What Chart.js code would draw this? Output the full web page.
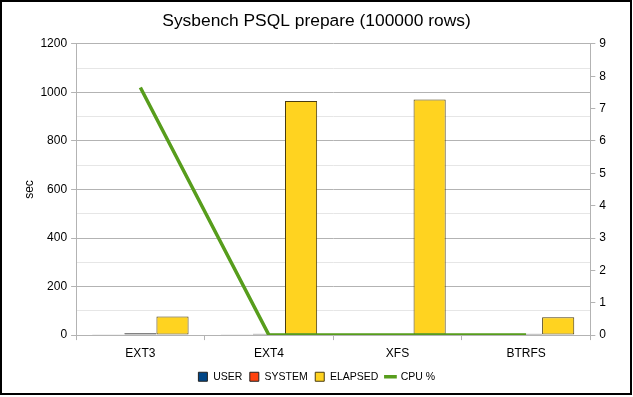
<!DOCTYPE html>
<html><head><meta charset="utf-8">
<script src="https://cdn.jsdelivr.net/npm/chart.js@4"></script>
<style>
html,body{margin:0;padding:0;background:#fff;}
#wrap{position:absolute;left:0;top:0;width:633px;height:397px;}
#frame{position:absolute;left:0;top:0;width:632px;height:395px;box-sizing:border-box;border:2px solid #000;pointer-events:none;}
</style></head>
<body>
<div id="wrap"><canvas id="c" width="633" height="397"></canvas></div>
<div id="frame"></div>
<script>
const categories = ['EXT3', 'EXT4', 'XFS', 'BTRFS'];
const userValues = [4, 4, 0, 0];
const systemValues = [8, 6, 0, 6];
const elapsedValues = [77, 965, 971, 74];
const cpuValues = [7.65, 0, 0, 0];
const leftTicks = [0, 200, 400, 600, 800, 1000, 1200];
const rightTicks = [0, 1, 2, 3, 4, 5, 6, 7, 8, 9];

Chart.defaults.font.family = '"Liberation Sans", Arial, sans-serif';
Chart.defaults.color = '#000';

new Chart(document.getElementById('c'), {
  data: {
    labels: categories,
    datasets: [
      {type:'bar', label:'USER', data:userValues, backgroundColor:'#004586', borderColor:'#222', borderWidth:1, borderSkipped:false, yAxisID:'y', order:2, pointStyle:'rect'},
      {type:'bar', label:'SYSTEM', data:systemValues, backgroundColor:'#ff420e', borderColor:'#222', borderWidth:1, borderSkipped:false, yAxisID:'y', order:2, pointStyle:'rect'},
      {type:'bar', label:'ELAPSED', data:elapsedValues, backgroundColor:'#ffd320', borderColor:'#4a3c10', borderWidth:1, borderSkipped:false, yAxisID:'y', order:2, pointStyle:'rect'},
      {type:'line', label:'CPU %', data:cpuValues, borderColor:'#579d1c', backgroundColor:'#579d1c', borderWidth:3.5, pointRadius:0, yAxisID:'y1', order:1, pointStyle:'line', tension:0}
    ]
  },
  options: {
    responsive:false, animation:false, devicePixelRatio:1,
    layout:{padding:{left:18, right:18, top:6, bottom:5}},
    datasets:{bar:{categoryPercentage:0.75, barPercentage:1.0}},
    plugins:{
      title:{display:true, text:'Sysbench PSQL prepare (100000 rows)', font:{size:17.4, weight:'normal'}, color:'#000', padding:{top:5, bottom:12}},
      legend:{position:'bottom', labels:{usePointStyle:true, boxWidth:10, boxHeight:9, font:{size:10.5}, padding:7, color:'#000',
        sort:(a,b)=>a.datasetIndex-b.datasetIndex}},
      tooltip:{enabled:false}
    },
    scales:{
      x:{
        afterFit:(s)=>{ s.height -= 2; },
        grid:{drawOnChartArea:false, tickLength:5, color:'#b3b3b3'},
        border:{color:'#b3b3b3'},
        ticks:{font:{size:12}, color:'#000', padding:6}
      },
      y:{
        position:'left', min:0, max:1200,
        afterBuildTicks:(ax)=>{ const t=[]; for(let v=0; v<=1200; v+=100) t.push({value:v}); ax.ticks=t; },
        ticks:{font:{size:12}, color:'#000', padding:4, callback:(v)=> leftTicks.includes(v) ? String(v) : ''},
        grid:{
          color:(ctx)=> (ctx.tick && leftTicks.includes(ctx.tick.value)) ? '#b3b3b3' : '#e6e6e6',
          tickColor:(ctx)=> (ctx.tick && leftTicks.includes(ctx.tick.value)) ? '#b3b3b3' : 'rgba(0,0,0,0)',
          tickLength:5
        },
        border:{color:'#b3b3b3'},
        title:{display:true, text:'sec', font:{size:12}, color:'#000', padding:{top:4, bottom:0}}
      },
      y1:{
        position:'right', min:0, max:9,
        afterBuildTicks:(ax)=>{ ax.ticks = rightTicks.map(v=>({value:v})); },
        afterFit:(s)=>{ s.width += 5; },
        ticks:{font:{size:12}, color:'#000', padding:4},
        grid:{drawOnChartArea:false, tickLength:5, color:'#b3b3b3'},
        border:{color:'#b3b3b3'}
      }
    }
  }
});
</script>
</body></html>
